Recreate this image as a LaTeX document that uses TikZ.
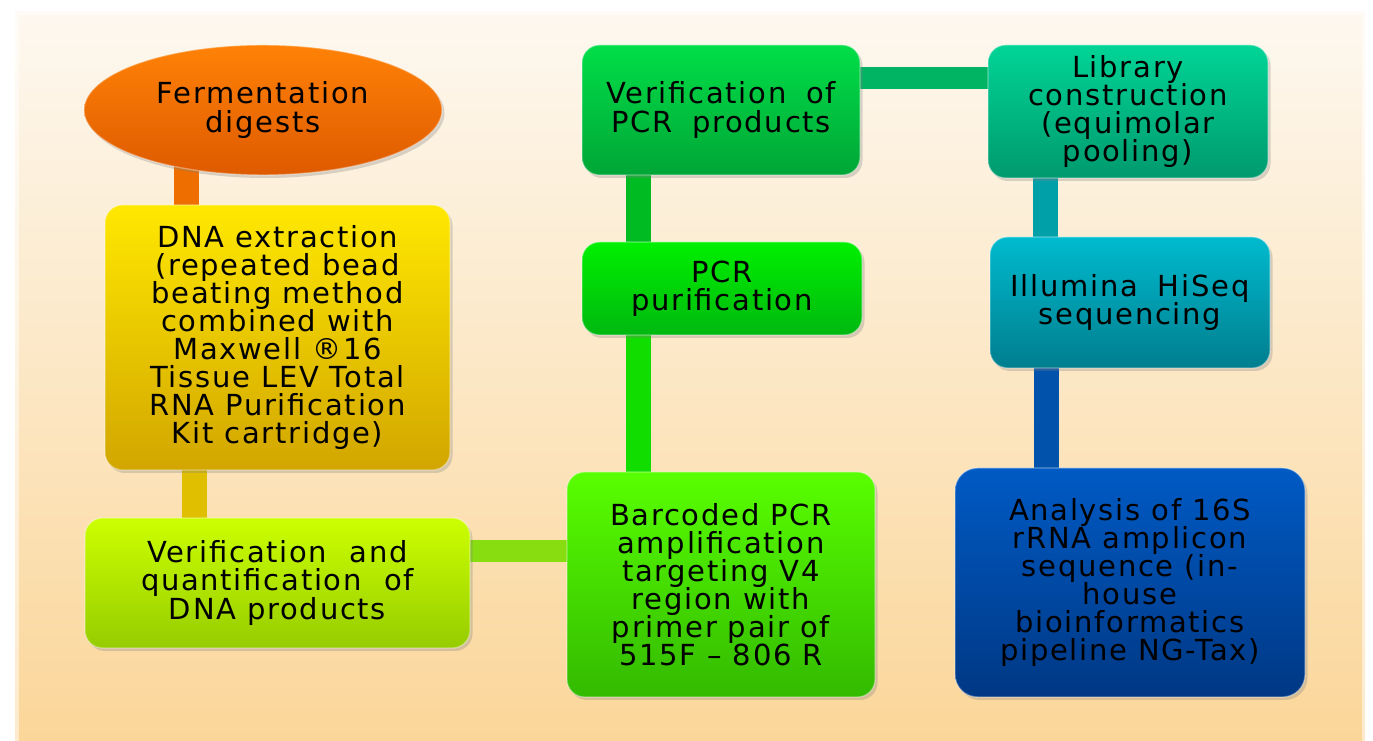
\documentclass[tikz,border=0pt]{standalone}
\usepackage{fontspec}
\setmainfont{DejaVu Sans}[LetterSpace=6]
\usetikzlibrary{shapes.geometric,shadows}

\definecolor{bgtop}{HTML}{FDF8F0}
\definecolor{bgbot}{HTML}{FBD699}
\definecolor{fertop}{HTML}{FF8206}
\definecolor{ferbot}{HTML}{DE5A00}
\definecolor{dnatop}{HTML}{FFE800}
\definecolor{dnabot}{HTML}{D2A600}
\definecolor{vdnatop}{HTML}{CCFF00}
\definecolor{vdnabot}{HTML}{96CC00}
\definecolor{bartop}{HTML}{58FF00}
\definecolor{barbot}{HTML}{33BA00}
\definecolor{pcrptop}{HTML}{00F000}
\definecolor{pcrpbot}{HTML}{00B810}
\definecolor{vpcrtop}{HTML}{00DE48}
\definecolor{vpcrbot}{HTML}{00A636}
\definecolor{libtop}{HTML}{00D496}
\definecolor{libbot}{HTML}{009A6E}
\definecolor{illtop}{HTML}{00BACE}
\definecolor{illbot}{HTML}{007E8E}
\definecolor{anatop}{HTML}{005AC4}
\definecolor{anabot}{HTML}{003884}

\pgfdeclarelayer{panel}
\pgfdeclarelayer{bars}
\pgfsetlayers{panel,bars,main}

\begin{document}
\begin{tikzpicture}[
    txt/.style={font=\fontsize{16.5}{16}\selectfont,align=center,inner sep=0pt,
      draw=white,draw opacity=.35,line width=.8pt,
      drop shadow={shadow xshift=.05cm,shadow yshift=-.06cm,opacity=.3}},
    box/.style={txt,rounded corners=0.35cm},
    bar/.style={line width=0.5cm}]
  \useasboundingbox (0,0) rectangle (27.46,14.82);
  \begin{pgfonlayer}{panel}
    \fill[white] (0,0) rectangle (27.46,14.82);
    \shade[top color=bgtop,bottom color=bgbot] (0.3,0) rectangle (27.3,14.58);
    \draw[white,opacity=.5,line width=4pt] (0.3,-1) -- (0.3,14.58) -- (27.3,14.58) -- (27.3,-1);
  \end{pgfonlayer}

  % left column
  \node[txt,ellipse,top color=fertop,bottom color=ferbot,
    minimum width=7.16cm,minimum height=2.6cm] (fer) at (5.26,12.62)
    {Fermentation\\digests};
  \node[box,top color=dnatop,bottom color=dnabot,
    minimum width=6.9cm,minimum height=5.3cm] (dna) at (5.55,8.07)
    {DNA extraction\\(repeated bead\\beating method\\combined with\\Maxwell ®16\\Tissue LEV Total\\RNA Purification\\Kit cartridge)};
  \node[box,top color=vdnatop,bottom color=vdnabot,
    minimum width=7.7cm,minimum height=2.6cm] (vdna) at (5.55,3.16)
    {Verification\hspace{.4em} and\\quantification\hspace{.4em} of\\DNA products};

  % middle column
  \node[box,top color=bartop,bottom color=barbot,
    minimum width=6.16cm,minimum height=4.5cm] (bar) at (14.42,3.13)
    {Barcoded PCR\\amplification\\targeting V4\\region with\\primer pair of\\515F – 806 R};
  \node[box,top color=pcrptop,bottom color=pcrpbot,
    minimum width=5.6cm,minimum height=1.86cm] (pcrp) at (14.44,9.05)
    {PCR\\purification};
  \node[box,top color=vpcrtop,bottom color=vpcrbot,
    minimum width=5.56cm,minimum height=2.6cm] (vpcr) at (14.42,12.62)
    {Verification\hspace{.3em} of\\PCR\hspace{.3em} products};

  % right column
  \node[box,top color=libtop,bottom color=libbot,
    minimum width=5.6cm,minimum height=2.66cm] (lib) at (22.56,12.59)
    {Library\\construction\\(equimolar\\pooling)};
  \node[box,top color=illtop,bottom color=illbot,
    minimum width=5.6cm,minimum height=2.62cm] (ill) at (22.6,8.77)
    {Illumina\hspace{.3em} HiSeq\\sequencing};
  \node[box,rounded corners=0.45cm,top color=anatop,bottom color=anabot,
    minimum width=7cm,minimum height=4.58cm] (ana) at (22.6,3.17)
    {Analysis of 16S\\rRNA amplicon\\sequence (in-\\house\\bioinformatics\\pipeline NG-Tax)};

  % connecting bars
  \begin{pgfonlayer}{bars}
    \draw[bar,color={rgb,255:red,238;green,110;blue,0}]
      ([xshift=-1.53cm]fer.center) -- ([xshift=-1.53cm]fer.center |- dna.center);
    \draw[bar,color={rgb,255:red,224;green,190;blue,0}]
      ([xshift=-1.67cm]dna.center) -- ([xshift=-1.67cm]dna.center |- vdna.center);
    \draw[bar,line width=0.44cm,color={rgb,255:red,136;green,221;blue,17}]
      ([yshift=0.64cm]vdna.center) -- ([yshift=0.64cm]vdna.center -| bar.center);
    \draw[bar,color={rgb,255:red,17;green,221;blue,0}]
      ([xshift=-1.66cm]bar.center) -- ([xshift=-1.66cm]bar.center |- pcrp.center);
    \draw[bar,color={rgb,255:red,0;green,187;blue,34}]
      ([xshift=-1.67cm]pcrp.center) -- ([xshift=-1.67cm]pcrp.center |- vpcr.center);
    \draw[bar,line width=0.44cm,color={rgb,255:red,0;green,180;blue,100}]
      ([yshift=0.64cm]vpcr.center) -- ([yshift=0.64cm]vpcr.center -| lib.center);
    \draw[bar,color={rgb,255:red,0;green,160;blue,168}]
      ([xshift=-1.65cm]lib.center) -- ([xshift=-1.65cm]lib.center |- ill.center);
    \draw[bar,color={rgb,255:red,0;green,82;blue,170}]
      ([xshift=-1.68cm]ill.center) -- ([xshift=-1.68cm]ill.center |- ana.center);
  \end{pgfonlayer}
\end{tikzpicture}
\end{document}
